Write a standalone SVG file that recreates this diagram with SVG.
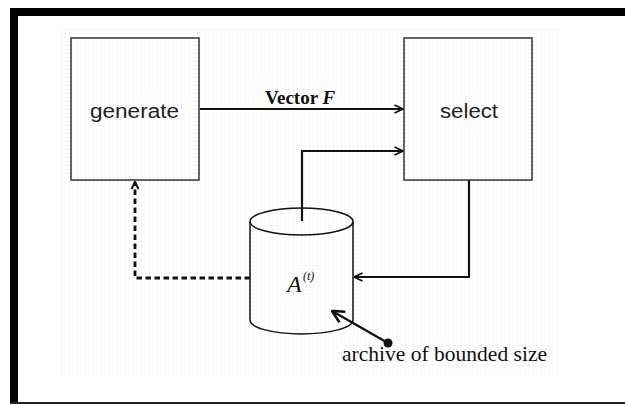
<svg xmlns="http://www.w3.org/2000/svg" width="625" height="405" viewBox="0 0 625 405">
  <style>
    .box { fill: none; stroke: #333; stroke-width: 1.5; }
    .label { font-family: "Liberation Sans", Arial, sans-serif; fill: #222; }
    .serif { font-family: "Liberation Serif", "Times New Roman", serif; fill: #111; }
    .wire { fill: none; stroke: #111; stroke-width: 2.2; }
    .dash { fill: none; stroke: #111; stroke-width: 2.8; stroke-dasharray: 5.5 3.5; }
    .can { fill: none; stroke: #111; stroke-width: 1.5; }
  </style>
  <defs>
    <pattern id="dots" width="4" height="4" patternUnits="userSpaceOnUse">
      <rect x="1" y="1" width="1" height="1" fill="#e2e2e2"/>
    </pattern>
    <marker id="open" viewBox="0 0 10 10" refX="9.5" refY="5" markerWidth="10" markerHeight="10" markerUnits="userSpaceOnUse" orient="auto">
      <path d="M1,1 L9.5,5 L1,9" fill="none" stroke="#111" stroke-width="1.8"/>
    </marker>
    <marker id="bold" viewBox="0 0 14 14" refX="13" refY="7" markerWidth="14" markerHeight="14" markerUnits="userSpaceOnUse" orient="auto">
      <path d="M1,1 L13,7 L1,13" fill="none" stroke="#111" stroke-width="2.6"/>
    </marker>
    <marker id="dashhead" viewBox="0 0 10 10" refX="9" refY="5" markerWidth="10" markerHeight="10" markerUnits="userSpaceOnUse" orient="auto">
      <path d="M2,1.5 L9,5 L2,8.5" fill="none" stroke="#111" stroke-width="2"/>
    </marker>
  </defs>

  <!-- page frame -->
  <rect x="0" y="0" width="625" height="405" fill="#fff"/>
  <rect x="58" y="28" width="503" height="347" fill="url(#dots)"/>
  <rect x="10" y="8" width="615" height="8" fill="#000"/>
  <rect x="10" y="8" width="8" height="396" fill="#000"/>
  <rect x="10" y="402" width="615" height="2" fill="#222"/>

  <!-- connectors -->
  <g id="connectors">
    <line class="wire" x1="200" y1="109" x2="403" y2="109" marker-end="url(#open)"/>
    <text class="serif" x="265" y="104" font-size="19" font-weight="bold">Vector <tspan font-style="italic">F</tspan></text>
    <polyline class="wire" points="302,221 302,151 403,151" marker-end="url(#open)"/>
    <polyline class="wire" points="469,180 469,277 354,277" marker-end="url(#open)"/>
    <polyline class="dash" points="250,278 135,278 135,182" marker-end="url(#dashhead)"/>
    <line class="wire" x1="388" y1="343" x2="332" y2="311" stroke-width="2.8" marker-end="url(#bold)"/>
    <circle cx="388" cy="343" r="4.5" fill="#111"/>
  </g>

  <!-- generate -->
  <g id="generate">
    <rect class="box" x="71" y="38" width="128" height="142"/>
    <text class="label" x="134.5" y="118" font-size="20" text-anchor="middle" textLength="89" lengthAdjust="spacingAndGlyphs">generate</text>
  </g>

  <!-- select -->
  <g id="select">
    <rect class="box" x="404" y="38" width="128" height="142"/>
    <text class="label" x="469" y="118" font-size="20" text-anchor="middle" textLength="58" lengthAdjust="spacingAndGlyphs">select</text>
  </g>

  <!-- archive -->
  <g id="archive">
    <path class="can" d="M250,222 L250,320 A51.5,14 0 0 0 353,320 L353,222"/>
    <ellipse class="can" cx="301.5" cy="221.5" rx="51.5" ry="13.5"/>
    <text class="serif" x="287" y="292" font-size="24" font-style="italic">A</text>
    <text class="serif" x="303" y="280" font-size="12" font-style="italic">(t)</text>
    <text class="serif" x="342" y="361" font-size="21.5" textLength="205" lengthAdjust="spacingAndGlyphs">archive of bounded size</text>
  </g>
</svg>
